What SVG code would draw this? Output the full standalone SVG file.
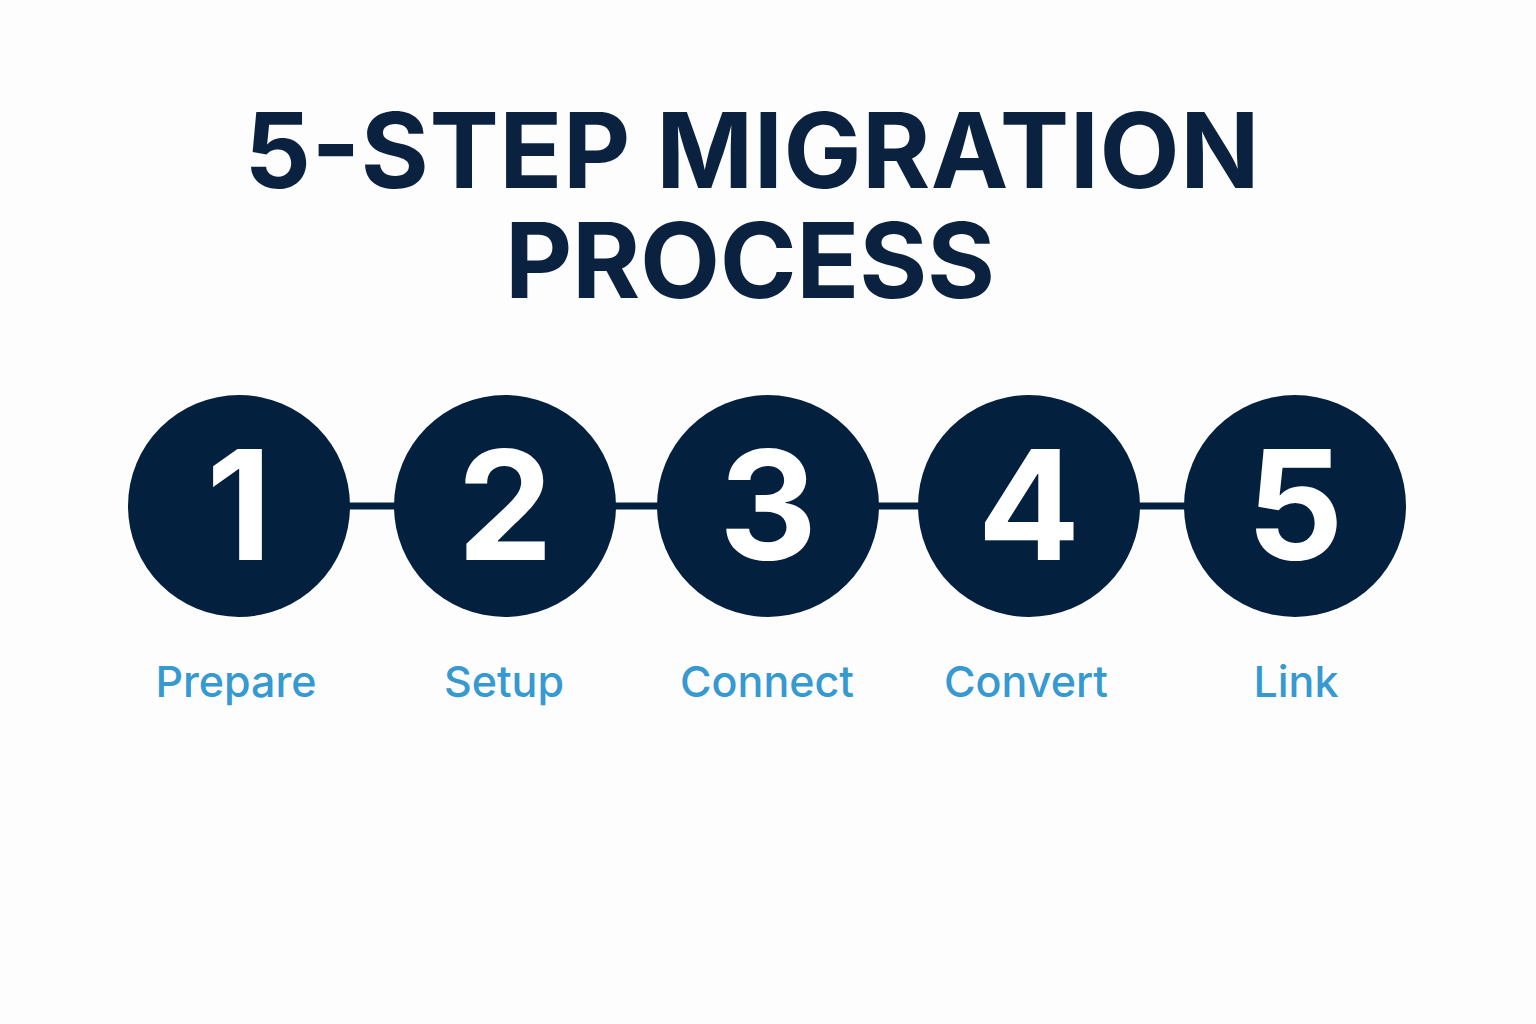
<svg xmlns="http://www.w3.org/2000/svg" width="1536" height="1024" viewBox="0 0 1536 1024">
<style>
.title{font-family:Inter,"Noto Sans","Liberation Sans",sans-serif;font-weight:700;font-size:104px;fill:#0b2140;text-anchor:middle}
.circ{fill:#04203f}
.num{font-family:Inter,"Noto Sans","Liberation Sans",sans-serif;font-weight:700;font-size:152px;fill:#ffffff;text-anchor:middle}
.lbl{font-family:Inter,"Noto Sans","Liberation Sans",sans-serif;font-weight:500;font-size:43px;fill:#3699cf;text-anchor:middle}
.conn{stroke:#04203f;stroke-width:7}
</style>
<rect width="1536" height="1024" fill="#fdfdfd"/>
<g id="title">
<text class="title" x="752" y="188" textLength="1015" lengthAdjust="spacing">5-STEP MIGRATION</text>
<text class="title" x="750" y="298" textLength="490" lengthAdjust="spacing">PROCESS</text>
</g>
<g id="connectors">
<line class="conn" x1="345" y1="506" x2="400" y2="506"/>
<line class="conn" x1="610" y1="506" x2="663" y2="506"/>
<line class="conn" x1="873" y1="506" x2="924" y2="506"/>
<line class="conn" x1="1134" y1="506" x2="1190" y2="506"/>
</g>
<g id="step1"><circle class="circ" cx="239" cy="506" r="111"/><text class="num" x="239" y="560">1</text><text class="lbl" x="236" y="697">Prepare</text></g>
<g id="step2"><circle class="circ" cx="505" cy="506" r="111"/><text class="num" x="505" y="560">2</text><text class="lbl" x="504" y="697">Setup</text></g>
<g id="step3"><circle class="circ" cx="768" cy="506" r="111"/><text class="num" x="768" y="560">3</text><text class="lbl" x="767" y="697">Connect</text></g>
<g id="step4"><circle class="circ" cx="1029" cy="506" r="111"/><text class="num" x="1029" y="560">4</text><text class="lbl" x="1026" y="697">Convert</text></g>
<g id="step5"><circle class="circ" cx="1295" cy="506" r="111"/><text class="num" x="1295" y="560">5</text><text class="lbl" x="1296" y="697">Link</text></g>
</svg>
